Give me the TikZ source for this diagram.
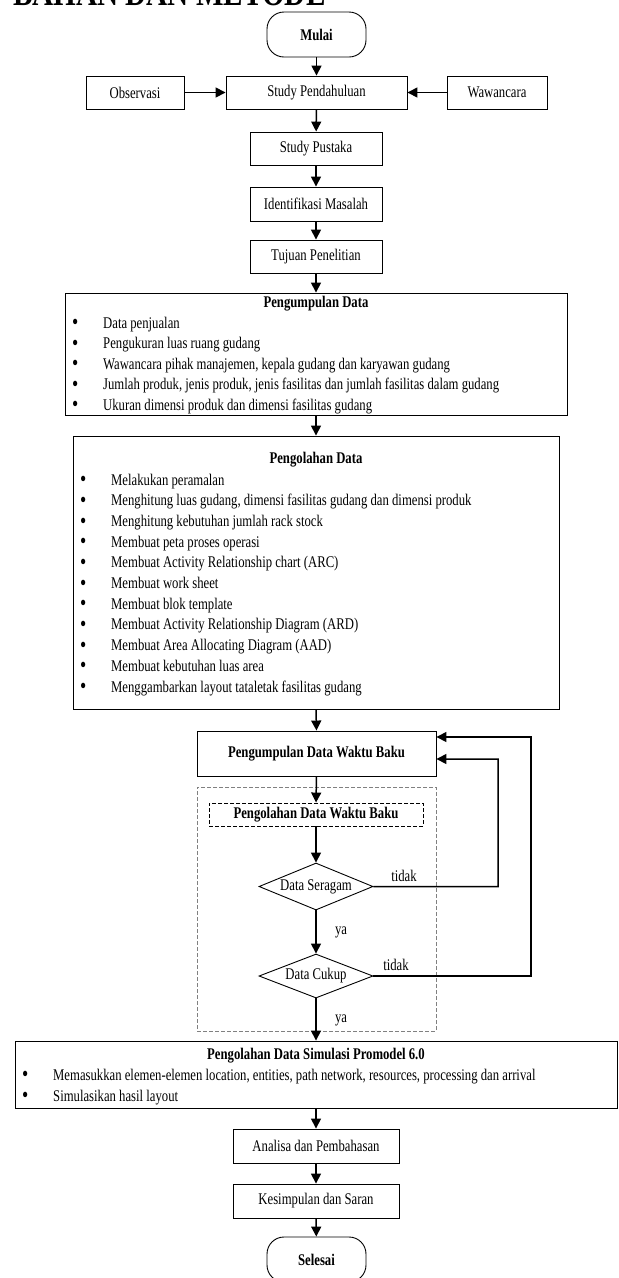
\documentclass[tikz,border=0pt]{standalone}
\usepackage{fontspec}
\setmainfont{Liberation Serif}[FakeStretch=0.78]
\usetikzlibrary{arrows.meta, calc, shapes.geometric}

\newcommand{\blt}[1]{\makebox[31bp][l]{\raisebox{-0.1em}{\scalebox{1.4}{\textbullet}}}#1}

\begin{document}
\begin{tikzpicture}[
  x=1bp, y=-1bp,
  every node/.style={font=\fontsize{16.35pt}{20.6pt}\selectfont},
  box/.style={draw, line width=0.9bp, inner sep=0pt, minimum height=33bp,
              align=center},
  bbox/.style={box, font=\fontsize{16.35pt}{20.6pt}\selectfont\bfseries},
  term/.style={bbox, rounded corners=17bp, minimum width=99bp,
               minimum height=45bp},
  dec/.style={draw, diamond, aspect=2.45, line width=0.9bp, inner sep=0pt,
              minimum width=114bp, minimum height=47bp},
  grp/.style={draw=gray, line width=0.9bp, dash pattern=on 4bp off 2bp,
              inner sep=0pt},
  ttl/.style={anchor=base, inner sep=0pt,
              font=\fontsize{16.35pt}{20.6pt}\selectfont\bfseries},
  li/.style={anchor=base west, inner sep=0pt},
  lbl/.style={inner sep=0pt},
  arr/.style={-{Triangle[length=10bp, width=10bp]}, line width=1.5bp},
]
  \useasboundingbox (0,0) rectangle (619,1278);

  %% ── Heading (cut at the top) ──
  \node[anchor=base west, inner sep=0pt,
        font=\fontsize{37.4bp}{40bp}\selectfont\bfseries] (bab) at (13, 5)
    {BAHAN DAN METODE};

  %% ══════════════════════════════════════════════════════
  %% Start and preliminary study
  \node[term] (mulai) at (316.5, 34.5) {Mulai};
  \node[box, minimum width=98bp]  (obs)   at (135, 92.5)   {Observasi};
  \node[box, minimum width=181bp] (studi) at (316.5, 92.5) {Study Pendahuluan};
  \node[box, minimum width=100bp] (waw)   at (497, 92.5)   {Wawancara};

  \node[box, minimum width=132bp] (pustaka) at (316, 148.5) {Study Pustaka};
  \node[box, minimum width=132bp, minimum height=34bp] (idm) at (316, 204)
    {Identifikasi Masalah};
  \node[box, minimum width=132bp] (tujuan) at (316, 256.5) {Tujuan Penelitian};

  %% ══════════════════════════════════════════════════════
  %% Pengumpulan Data
  \node[box, minimum width=502bp, minimum height=122bp] (kumpul) at (316, 354) {};
  \node[ttl] (kumpul_t) at (316, 307) {Pengumpulan Data};
  \node[li] (k1) at (72, 328)   {\blt{Data penjualan}};
  \node[li] (k2) at (72, 348.5) {\blt{Pengukuran luas ruang gudang}};
  \node[li] (k3) at (72, 369)
    {\blt{Wawancara pihak manajemen, kepala gudang dan karyawan gudang}};
  \node[li] (k4) at (72, 389.5)
    {\blt{Jumlah produk, jenis produk, jenis fasilitas dan jumlah fasilitas dalam gudang}};
  \node[li] (k5) at (72, 410)
    {\blt{Ukuran dimensi produk dan dimensi fasilitas gudang}};

  %% ══════════════════════════════════════════════════════
  %% Pengolahan Data
  \node[box, minimum width=486bp, minimum height=273bp] (olah) at (316, 572.5) {};
  \node[ttl] (olah_t) at (316, 463) {Pengolahan Data};
  \node[li] (o1)  at (80, 485)   {\blt{Melakukan peramalan}};
  \node[li] (o2)  at (80, 505.7)
    {\blt{Menghitung luas gudang, dimensi fasilitas gudang dan dimensi produk}};
  \node[li] (o3)  at (80, 526.4) {\blt{Menghitung kebutuhan jumlah rack stock}};
  \node[li] (o4)  at (80, 547.1) {\blt{Membuat peta proses operasi}};
  \node[li] (o5)  at (80, 567.8) {\blt{Membuat Activity Relationship chart (ARC)}};
  \node[li] (o6)  at (80, 588.5) {\blt{Membuat work sheet}};
  \node[li] (o7)  at (80, 609.2) {\blt{Membuat blok template}};
  \node[li] (o8)  at (80, 629.9) {\blt{Membuat Activity Relationship Diagram (ARD)}};
  \node[li] (o9)  at (80, 650.6) {\blt{Membuat Area Allocating Diagram (AAD)}};
  \node[li] (o10) at (80, 671.3) {\blt{Membuat kebutuhan luas area}};
  \node[li] (o11) at (80, 692)
    {\blt{Menggambarkan layout tataletak fasilitas gudang}};

  %% ══════════════════════════════════════════════════════
  %% Waktu baku
  \node[bbox, minimum width=239bp, minimum height=45bp] (wb) at (316.5, 753.5)
    {Pengumpulan Data Waktu Baku};
  \node[grp, minimum width=239bp, minimum height=244bp] (wbgrp) at (316.5, 909) {};
  \node[bbox, draw=black, dash pattern=on 4bp off 2bp, minimum width=214bp,
        minimum height=23bp] (wbolah) at (316, 814.5) {Pengolahan Data Waktu Baku};
  \node[dec] (seragam) at (316, 886.5) {Data Seragam};
  \node[dec, minimum height=44bp] (cukup) at (316, 976) {Data Cukup};

  \node[lbl] (tdk1) at (404, 876)  {tidak};
  \node[lbl] (tdk2) at (396, 965)  {tidak};
  \node[lbl] (ya1)  at (341, 932)  {ya};
  \node[lbl] (ya2)  at (341, 1020) {ya};

  %% ══════════════════════════════════════════════════════
  %% Simulasi and end
  \node[box, minimum width=602bp, minimum height=67bp] (sim) at (316, 1074.5) {};
  \node[ttl] (sim_t) at (316, 1059) {Pengolahan Data Simulasi Promodel 6.0};
  \node[li] (s1) at (22, 1080)
    {\blt{Memasukkan elemen-elemen location, entities, path network, resources, processing dan arrival}};
  \node[li] (s2) at (22, 1101) {\blt{Simulasikan hasil layout}};

  \node[box, minimum width=166bp, minimum height=34bp] (analisa) at (316, 1146)
    {Analisa dan Pembahasan};
  \node[box, minimum width=166bp, minimum height=34bp] (simpul) at (316, 1201)
    {Kesimpulan dan Saran};
  \node[term] (selesai) at (316.5, 1259.5) {Selesai};

  %% ══════════════════════════════════════════════════════
  %% ═══ ARROWS ═══
  \draw[arr] (mulai) -- (studi);
  \draw[arr] (obs) -- (studi);
  \draw[arr] (waw) -- (studi);
  \draw[arr] (studi) -- (pustaka);
  \draw[arr] (pustaka) -- (idm);
  \draw[arr] (idm) -- (tujuan);
  \draw[arr] (tujuan) -- (kumpul);
  \draw[arr] (kumpul.south) -- (olah.north);
  \draw[arr] (olah.south) -- (wb.north);
  \draw[arr] (wb.south) -- (wbolah.north);
  \draw[arr] (wbolah) -- (seragam);
  \draw[arr] (seragam) -- (cukup);
  \draw[arr] (cukup.south) -- (sim.north);
  \draw[arr] (sim.south) -- (analisa.north);
  \draw[arr] (analisa) -- (simpul);
  \draw[arr] (simpul) -- (selesai);

  %% tidak -> back to Pengumpulan Data Waktu Baku
  \draw[arr] (seragam.east) -| (498, 759) -- ($(wb.east)+(0,5.5)$);
  \draw[arr] (cukup.east) -| (531, 737) -- ($(wb.east)+(0,-16.5)$);
\end{tikzpicture}
\end{document}
